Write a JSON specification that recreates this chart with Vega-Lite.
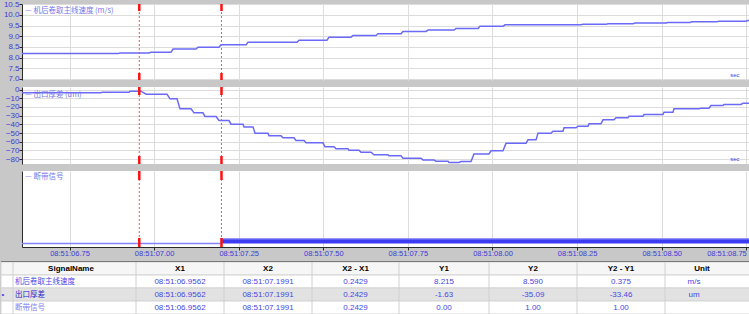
{
  "$schema": "https://vega.github.io/schema/vega-lite/v6.json",
  "background": "#c8c8c8",
  "padding": 0,
  "autosize": {"type": "pad"},
  "bounds": "flush",
  "spacing": 7,
  "config": {
    "view": {"stroke": null},
    "axis": {"labelFont": "Liberation Sans", "labelColor": "#3c3cd8", "labelFontSize": 8, "gridColor": "#dcdcdc", "gridWidth": 1, "domainColor": "#2a2a2a", "tickColor": "#2a2a2a", "titleFont": "Liberation Sans"},
    "title": {"font": "Noto Sans CJK SC", "fontSize": 7.5, "fontWeight": "normal", "color": "#7676ea", "anchor": "start", "baseline": "middle", "frame": "group"}
  },
  "datasets": {
    "speed": [
      {"t":6.6096,"v":8.19},{"t":6.8933,"v":8.19},{"t":6.8992,"v":8.22},{"t":6.9849,"v":8.22},{"t":6.9908,"v":8.25},{"t":7.0499,"v":8.25},{"t":7.0559,"v":8.40},{"t":7.1238,"v":8.40},{"t":7.1297,"v":8.49},{"t":7.1918,"v":8.49},{"t":7.1977,"v":8.60},{"t":7.2716,"v":8.60},{"t":7.2775,"v":8.72},{"t":7.4223,"v":8.72},{"t":7.4282,"v":8.82},{"t":7.5109,"v":8.82},{"t":7.5168,"v":8.96},{"t":7.5819,"v":8.96},{"t":7.5878,"v":9.04},{"t":7.6557,"v":9.04},{"t":7.6616,"v":9.12},{"t":7.7296,"v":9.12},{"t":7.7355,"v":9.23},{"t":7.8035,"v":9.23},{"t":7.8094,"v":9.29},{"t":7.8862,"v":9.29},{"t":7.8921,"v":9.37},{"t":7.9572,"v":9.37},{"t":7.9631,"v":9.47},{"t":8.0310,"v":9.47},{"t":8.0369,"v":9.54},{"t":8.2615,"v":9.54},{"t":8.2674,"v":9.56},{"t":8.3354,"v":9.56},{"t":8.3413,"v":9.59},{"t":8.4152,"v":9.59},{"t":8.4211,"v":9.62},{"t":8.5127,"v":9.62},{"t":8.5186,"v":9.65},{"t":8.5836,"v":9.65},{"t":8.5895,"v":9.68},{"t":8.6634,"v":9.68},{"t":8.6693,"v":9.71},{"t":8.7491,"v":9.71},{"t":8.7550,"v":9.74},{"t":8.758,"v":9.74}
    ],
    "thick": [
      {"t":6.6096,"v":-3.8},{"t":6.8431,"v":-3.8},{"t":6.8460,"v":-3.1},{"t":6.9258,"v":-3.1},{"t":6.9288,"v":-1.9},{"t":6.9613,"v":-1.9},{"t":6.9761,"v":-5.4},{"t":7.0381,"v":-5.4},{"t":7.0470,"v":-10.7},{"t":7.0677,"v":-10.7},{"t":7.0765,"v":-22.2},{"t":7.1090,"v":-22.2},{"t":7.1179,"v":-26.8},{"t":7.1445,"v":-26.8},{"t":7.1504,"v":-31.0},{"t":7.1829,"v":-31.0},{"t":7.1918,"v":-35.6},{"t":7.2213,"v":-35.6},{"t":7.2273,"v":-39.8},{"t":7.2627,"v":-39.8},{"t":7.2657,"v":-42.9},{"t":7.2923,"v":-42.9},{"t":7.2982,"v":-50.1},{"t":7.3366,"v":-50.1},{"t":7.3395,"v":-53.2},{"t":7.3750,"v":-53.2},{"t":7.3809,"v":-55.5},{"t":7.4134,"v":-55.5},{"t":7.4193,"v":-58.6},{"t":7.4430,"v":-58.6},{"t":7.4489,"v":-61.2},{"t":7.4991,"v":-61.2},{"t":7.5050,"v":-65.8},{"t":7.5316,"v":-65.8},{"t":7.5375,"v":-68.1},{"t":7.5730,"v":-68.1},{"t":7.5759,"v":-69.6},{"t":7.6055,"v":-69.6},{"t":7.6114,"v":-72.0},{"t":7.6410,"v":-72.0},{"t":7.6498,"v":-75.0},{"t":7.6912,"v":-75.0},{"t":7.6942,"v":-76.1},{"t":7.7296,"v":-76.1},{"t":7.7355,"v":-78.9},{"t":7.7887,"v":-78.9},{"t":7.7946,"v":-80.8},{"t":7.8271,"v":-80.8},{"t":7.8330,"v":-82.3},{"t":7.8685,"v":-82.3},{"t":7.8715,"v":-83.8},{"t":7.9010,"v":-83.8},{"t":7.9069,"v":-82.7},{"t":7.9365,"v":-82.7},{"t":7.9453,"v":-73.9},{"t":7.9897,"v":-73.9},{"t":7.9956,"v":-70.4},{"t":8.0310,"v":-70.4},{"t":8.0399,"v":-61.8},{"t":8.0990,"v":-61.8},{"t":8.1049,"v":-57.8},{"t":8.1286,"v":-57.8},{"t":8.1345,"v":-50.1},{"t":8.1729,"v":-50.1},{"t":8.1788,"v":-47.8},{"t":8.2083,"v":-47.8},{"t":8.2113,"v":-44.0},{"t":8.2468,"v":-44.0},{"t":8.2527,"v":-42.1},{"t":8.2822,"v":-42.1},{"t":8.2852,"v":-39.4},{"t":8.3206,"v":-39.4},{"t":8.3265,"v":-34.8},{"t":8.3590,"v":-34.8},{"t":8.3650,"v":-32.5},{"t":8.4004,"v":-32.5},{"t":8.4034,"v":-30.6},{"t":8.4447,"v":-30.6},{"t":8.4477,"v":-28.7},{"t":8.5038,"v":-28.7},{"t":8.5068,"v":-26.0},{"t":8.5334,"v":-26.0},{"t":8.5364,"v":-22.2},{"t":8.6102,"v":-22.2},{"t":8.6161,"v":-21.4},{"t":8.6398,"v":-21.4},{"t":8.6457,"v":-18.4},{"t":8.6812,"v":-18.4},{"t":8.6841,"v":-17.2},{"t":8.7344,"v":-17.2},{"t":8.7403,"v":-15.7},{"t":8.758,"v":-15.7}
    ],
    "brk": [
      {"t":6.6096,"v":0},{"t":7.1991,"v":0},{"t":7.1991,"v":1},{"t":8.758,"v":1}
    ],
    "cursors": [{"name":"X1","t":6.9562},{"name":"X2","t":7.1991}],
    "bounds": [{"b":1},{"b":2},{"b":3},{"b":4},{"b":5},{"b":6},{"b":7},{"b":8}],
    "cells": [
      {"r":0,"c":1,"s":"SignalName"},{"r":0,"c":2,"s":"X1"},{"r":0,"c":3,"s":"X2"},{"r":0,"c":4,"s":"X2 - X1"},{"r":0,"c":5,"s":"Y1"},{"r":0,"c":6,"s":"Y2"},{"r":0,"c":7,"s":"Y2 - Y1"},{"r":0,"c":8,"s":"Unit"},
      {"r":1,"c":1,"s":"机后卷取主线速度"},{"r":1,"c":2,"s":"08:51:06.9562"},{"r":1,"c":3,"s":"08:51:07.1991"},{"r":1,"c":4,"s":"0.2429"},{"r":1,"c":5,"s":"8.215"},{"r":1,"c":6,"s":"8.590"},{"r":1,"c":7,"s":"0.375"},{"r":1,"c":8,"s":"m/s"},
      {"r":2,"c":0,"s":"•"},{"r":2,"c":1,"s":"出口厚差"},{"r":2,"c":2,"s":"08:51:06.9562"},{"r":2,"c":3,"s":"08:51:07.1991"},{"r":2,"c":4,"s":"0.2429"},{"r":2,"c":5,"s":"-1.63"},{"r":2,"c":6,"s":"-35.09"},{"r":2,"c":7,"s":"-33.46"},{"r":2,"c":8,"s":"um"},
      {"r":3,"c":1,"s":"断带信号"},{"r":3,"c":2,"s":"08:51:06.9562"},{"r":3,"c":3,"s":"08:51:07.1991"},{"r":3,"c":4,"s":"0.2429"},{"r":3,"c":5,"s":"0.00"},{"r":3,"c":6,"s":"1.00"},{"r":3,"c":7,"s":"1.00"}
    ]
  },
  "vconcat": [
    {
      "width": 727, "height": 76,
      "view": {"fill": "white", "stroke": null},
      "title": {"text": "— 机后卷取主线速度 (m/s)", "offset": -14, "dx": 3},
      "layer": [
        {
          "data": {"name": "speed"},
          "mark": {"type": "line", "color": "#6a6af6", "strokeWidth": 1.5, "clip": true},
          "encoding": {
            "x": {"field": "t", "type": "quantitative", "scale": {"domain": [6.6096, 8.758], "nice": false, "zero": false},
              "axis": {"values": [6.75, 7.0, 7.25, 7.5, 7.75, 8.0, 8.25, 8.5, 8.75], "grid": true, "labels": false, "ticks": false, "domain": false, "title": "sec", "titleX": 717, "titleY": -6, "titleAlign": "right", "titleBaseline": "middle", "titleFontSize": 6, "titleColor": "#4444e0", "titleFontWeight": "normal"}},
            "y": {"field": "v", "type": "quantitative", "scale": {"domain": [6.953, 10.514], "nice": false, "zero": false},
              "axis": {"values": [7, 7.5, 8, 8.5, 9, 9.5, 10, 10.5], "format": ".1f", "title": null, "grid": true, "tickSize": 3, "labelPadding": 0}}
          }
        },
        {
          "data": {"name": "cursors"},
          "mark": {"type": "rule", "color": "#ff5050", "strokeWidth": 1, "strokeDash": [2, 2]},
          "encoding": {"x": {"field": "t", "type": "quantitative"}}
        },
        {
          "data": {"name": "cursors"},
          "mark": {"type": "rule", "color": "#ff1010", "strokeWidth": 2.5, "strokeDash": [7, 62, 7]},
          "encoding": {"x": {"field": "t", "type": "quantitative"}}
        }
      ]
    },
    {
      "width": 727, "height": 77,
      "view": {"fill": "white", "stroke": null},
      "title": {"text": "— 出口厚差 (um)", "offset": -13, "dx": 3},
      "layer": [
        {
          "data": {"name": "thick"},
          "mark": {"type": "line", "color": "#6a6af6", "strokeWidth": 1.5, "clip": true},
          "encoding": {
            "x": {"field": "t", "type": "quantitative", "scale": {"domain": [6.6096, 8.758], "nice": false, "zero": false},
              "axis": {"values": [6.75, 7.0, 7.25, 7.5, 7.75, 8.0, 8.25, 8.5, 8.75], "grid": true, "labels": false, "ticks": false, "domain": false, "title": "sec", "titleX": 717, "titleY": -6, "titleAlign": "right", "titleBaseline": "middle", "titleFontSize": 6, "titleColor": "#4444e0", "titleFontWeight": "normal"}},
            "y": {"field": "v", "type": "quantitative", "scale": {"domain": [-85.5, 2.87], "nice": false, "zero": false},
              "axis": {"values": [0, -10, -20, -30, -40, -50, -60, -70, -80], "format": "d", "title": null, "grid": true, "tickSize": 3, "labelPadding": 0}}
          }
        },
        {
          "data": {"name": "cursors"},
          "mark": {"type": "rule", "color": "#ff5050", "strokeWidth": 1, "strokeDash": [2, 2]},
          "encoding": {"x": {"field": "t", "type": "quantitative"}}
        },
        {
          "data": {"name": "cursors"},
          "mark": {"type": "rule", "color": "#ff1010", "strokeWidth": 2.5, "strokeDash": [8, 61, 8]},
          "encoding": {"x": {"field": "t", "type": "quantitative"}}
        }
      ]
    },
    {
      "width": 727, "height": 76,
      "view": {"fill": "white", "stroke": null},
      "title": {"text": "— 断带信号", "offset": -11, "dx": 3},
      "layer": [
        {
          "data": {"name": "brk"},
          "mark": {"type": "area", "color": "#3c3cf0", "opacity": 1},
          "encoding": {
            "x": {"field": "t", "type": "quantitative", "scale": {"domain": [6.6096, 8.758], "nice": false, "zero": false},
              "axis": {"values": [6.75, 7.0, 7.25, 7.5, 7.75, 8.0, 8.25, 8.5, 8.75], "labelExpr": "'08:51:0' + format(datum.value, '.2f')", "grid": true, "tickSize": 3, "labelPadding": -1, "labelFontSize": 7.5, "title": null, "labelFlush": false, "labelAlign": {"condition": {"test": "datum.value > 8.7", "value": "right"}, "value": "center"}}},
            "y": {"field": "v", "type": "quantitative", "scale": {"domain": [-0.745, 15.43], "nice": false, "zero": false},
              "axis": {"labels": false, "ticks": false, "grid": false, "domain": true, "title": null}},
            "y2": {"datum": 0}
          }
        },
        {
          "data": {"name": "brk"},
          "mark": {"type": "line", "color": "#8484fa", "strokeWidth": 1.3},
          "encoding": {
            "x": {"field": "t", "type": "quantitative"},
            "y": {"field": "v", "type": "quantitative"}
          }
        },
        {
          "data": {"name": "cursors"},
          "mark": {"type": "rule", "color": "#ff5050", "strokeWidth": 1, "strokeDash": [2, 2]},
          "encoding": {"x": {"field": "t", "type": "quantitative"}}
        },
        {
          "data": {"name": "cursors"},
          "mark": {"type": "rule", "color": "#ff1010", "strokeWidth": 2.5, "strokeDash": [9, 58, 9]},
          "encoding": {"x": {"field": "t", "type": "quantitative"}}
        }
      ]
    },
    {
      "width": 727, "height": 60,
      "data": {"name": "cells"},
      "resolve": {"scale": {"x": "independent", "y": "independent"}},
      "layer": [
        {
          "transform": [{"filter": "datum.c == 1"}],
          "mark": {"type": "rect", "stroke": "#d4d4d4", "strokeWidth": 1},
          "encoding": {
            "x": {"datum": 0, "type": "quantitative", "scale": {"domain": [0,1,2,3,4,5,6,7,8,9], "range": [-21,-9,114,202,290,377,467,555,643,728], "nice": false, "zero": false}, "axis": null},
            "x2": {"datum": 9},
            "y": {"field": "r", "type": "ordinal", "scale": {"domain": [0,1,2,3], "range": [8, 60], "paddingInner": 0, "paddingOuter": 0}, "axis": null},
            "fill": {"field": "r", "type": "nominal", "scale": {"domain": [0,1,2,3], "range": ["#f6f6f6", "#ffffff", "#e2e2e2", "#ffffff"]}, "legend": null}
          }
        },
        {
          "data": {"name": "bounds"},
          "mark": {"type": "rule", "color": "#d0d0d0", "strokeWidth": 1},
          "encoding": {
            "x": {"field": "b", "type": "quantitative", "scale": {"domain": [0,1,2,3,4,5,6,7,8,9], "range": [-21,-9,114,202,290,377,467,555,643,728], "nice": false, "zero": false}, "axis": null},
            "y": {"datum": 0, "type": "quantitative", "scale": {"domain": [0, 1], "range": [8, 60], "nice": false, "zero": false}, "axis": null},
            "y2": {"datum": 1}
          }
        },
        {
          "transform": [{"filter": "datum.r == 0 && datum.c == 1"}],
          "mark": {"type": "rule", "color": "#7a7a7a", "strokeWidth": 1.2},
          "encoding": {
            "x": {"datum": 0, "type": "quantitative", "scale": {"domain": [0,1,2,3,4,5,6,7,8,9], "range": [-21,-9,114,202,290,377,467,555,643,728], "nice": false, "zero": false}, "axis": null},
            "x2": {"datum": 9},
            "y": {"datum": 0, "type": "quantitative", "scale": {"domain": [0, 1], "range": [7.5, 60], "nice": false, "zero": false}, "axis": null}
          }
        },
        {
          "transform": [{"filter": "datum.r == 0"}],
          "mark": {"type": "text", "font": "Liberation Sans", "fontSize": 8, "fontWeight": "bold", "color": "#000000", "align": "center", "baseline": "middle"},
          "encoding": {
            "x": {"field": "c", "type": "quantitative", "scale": {"domain": [0,1,2,3,4,5,6,7,8], "range": [-19,49,158,246,333.5,422,511,599,680], "nice": false, "zero": false}, "axis": null},
            "y": {"field": "r", "type": "ordinal", "scale": {"domain": [0,1,2,3], "range": [8, 60], "paddingInner": 0, "paddingOuter": 0}, "axis": null},
            "text": {"field": "s"}
          }
        },
        {
          "transform": [{"filter": "datum.r > 0 && datum.c != 1"}],
          "mark": {"type": "text", "font": "Liberation Sans", "fontSize": 8, "color": "#4646e6", "align": "center", "baseline": "middle"},
          "encoding": {
            "x": {"field": "c", "type": "quantitative", "scale": {"domain": [0,1,2,3,4,5,6,7,8], "range": [-19,49,158,246,333.5,422,511,599,672], "nice": false, "zero": false}, "axis": null},
            "y": {"field": "r", "type": "ordinal", "scale": {"domain": [0,1,2,3], "range": [8, 60], "paddingInner": 0, "paddingOuter": 0}, "axis": null},
            "text": {"field": "s"}
          }
        },
        {
          "transform": [{"filter": "datum.r > 0 && datum.c == 1"}],
          "mark": {"type": "text", "font": "Noto Sans CJK SC", "fontSize": 7.5, "align": "left", "baseline": "middle", "dx": -56},
          "encoding": {
            "x": {"field": "c", "type": "quantitative", "scale": {"domain": [0,1,2,3,4,5,6,7,8], "range": [-19,49,158,246,333.5,422,511,599,680], "nice": false, "zero": false}, "axis": null},
            "y": {"field": "r", "type": "ordinal", "scale": {"domain": [0,1,2,3], "range": [8, 60], "paddingInner": 0, "paddingOuter": 0}, "axis": null},
            "color": {"field": "r", "type": "nominal", "scale": {"domain": [1,2,3], "range": ["#4a4ae4", "#2222c8", "#8080f0"]}, "legend": null},
            "text": {"field": "s"}
          }
        }
      ]
    }
  ]
}
